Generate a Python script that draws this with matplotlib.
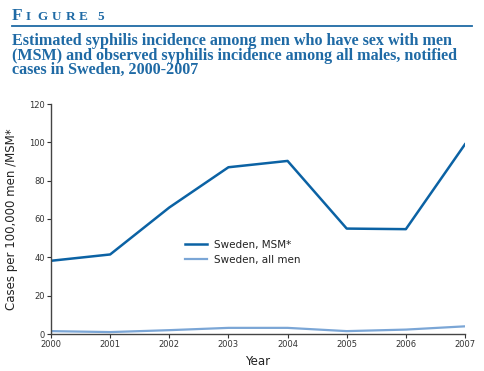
import matplotlib
matplotlib.use("Agg")
import matplotlib.pyplot as plt
from matplotlib.lines import Line2D

years = [2000, 2001, 2002, 2003, 2004, 2005, 2006, 2007]
msm = [38.2, 41.5, 66.0, 87.0, 90.3, 55.0, 54.7, 99.0]
all_men = [1.5, 1.0, 2.0, 3.2, 3.2, 1.5, 2.3, 4.0]
yticks = [0, 20, 40, 60, 80, 100, 120]
title_lines = ["Estimated syphilis incidence among men who have sex with men",
               "(MSM) and observed syphilis incidence among all males, notified",
               "cases in Sweden, 2000-2007"]

W, H = 484, 371
fig = plt.figure(figsize=(W / 100, H / 100), dpi=100)
title_col = "#1f6aa5"

def fx(px):
    return px / W

def fy(py):
    return 1 - py / H

# Header "Figure 5" in spaced small caps
fig.text(fx(12), fy(20), "F", fontsize=12.5, family="Liberation Serif", color=title_col,
         va="baseline", fontweight="bold")
for ch, px in zip("IGURE5", [26, 37, 52, 66, 79, 97]):
    fig.text(fx(px), fy(20), ch, fontsize=9.5, family="Liberation Serif", color=title_col,
             va="baseline", fontweight="bold")
fig.add_artist(Line2D([fx(12), fx(472)], [fy(25.5), fy(25.5)], color=title_col, lw=1.3))
for i, line in enumerate(title_lines):
    fig.text(fx(12), fy(45 + 14.5 * i), line,
             fontsize=11.65, family="Liberation Serif", fontweight="bold", color=title_col,
             va="baseline")

ax = fig.add_axes([fx(51), fy(334), fx(465) - fx(51), fy(104) - fy(334)])
ax.plot(years, msm, color="#0b62a4", lw=1.8, label="Sweden, MSM*")
ax.plot(years, all_men, color="#7ba6d6", lw=1.6, label="Sweden, all men")
ax.set_xlim(2000, 2007)
ax.set_ylim(0, 120)
ax.set_yticks(yticks)
ax.set_xticks(years)
for s in ["top", "right"]:
    ax.spines[s].set_visible(False)
for s in ["left", "bottom"]:
    ax.spines[s].set_color("#444444")
    ax.spines[s].set_linewidth(1.0)
ax.tick_params(axis="both", labelsize=6, colors="#333333", length=3, width=0.8, pad=1.5)
ax.set_xlabel("Year", fontsize=8.5, color="#222222", labelpad=4)
ax.set_ylabel("Cases per 100,000 men /MSM*", fontsize=8.5, color="#222222", labelpad=8)
leg = ax.legend(loc="upper left", bbox_to_anchor=(0.3, 0.45), frameon=False, fontsize=7.5,
                handlelength=2.2, handletextpad=0.6, labelspacing=0.5)
for t in leg.get_texts():
    t.set_color("#222222")

fig.savefig("out.png", dpi=100)
